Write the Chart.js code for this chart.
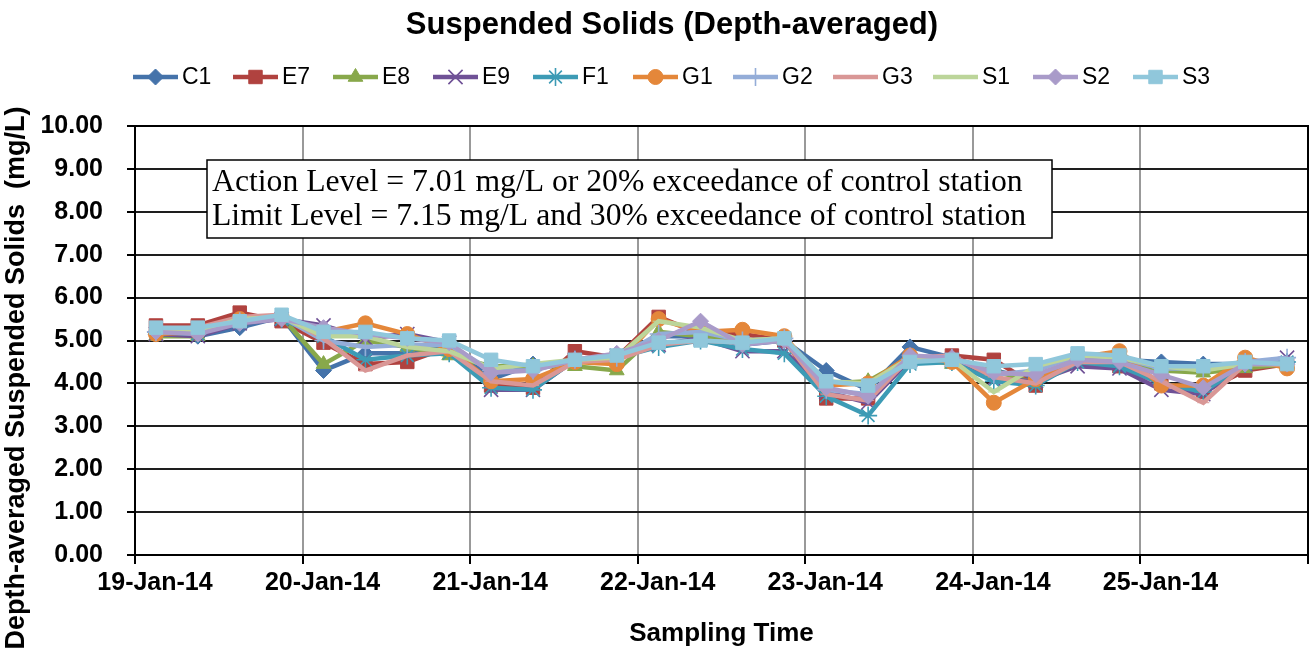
<!DOCTYPE html>
<html>
<head>
<meta charset="utf-8">
<script src="https://cdn.jsdelivr.net/npm/chart.js@4.4.1/dist/chart.umd.min.js"></script>
<style>
  html, body { margin: 0; padding: 0; background: #fff; }
  #wrap { width: 1309px; height: 657px; }
</style>
</head>
<body>
<div id="wrap"><canvas id="chart" width="1309" height="657"></canvas></div>
<script>
// ============= DATA =============
const stations = ['C1', 'E7', 'E8', 'E9', 'F1', 'G1', 'G2', 'G3', 'S1', 'S2', 'S3'];

const sampleTimes = [
  '2014-01-19 03:00', '2014-01-19 09:00', '2014-01-19 15:00', '2014-01-19 21:00',
  '2014-01-20 03:00', '2014-01-20 09:00', '2014-01-20 15:00', '2014-01-20 21:00',
  '2014-01-21 03:00', '2014-01-21 09:00', '2014-01-21 15:00', '2014-01-21 21:00',
  '2014-01-22 03:00', '2014-01-22 09:00', '2014-01-22 15:00', '2014-01-22 21:00',
  '2014-01-23 03:00', '2014-01-23 09:00', '2014-01-23 15:00', '2014-01-23 21:00',
  '2014-01-24 03:00', '2014-01-24 09:00', '2014-01-24 15:00', '2014-01-24 21:00',
  '2014-01-25 03:00', '2014-01-25 09:00', '2014-01-25 15:00', '2014-01-25 21:00'
];

const C1 = [5.15, 5.10, 5.30, 5.55, 4.30, 4.70, 4.70, 4.90, 4.10, 4.45, 4.50, 4.60, 5.10, 5.10, 4.90, 5.00, 4.30, 3.85, 4.85, 4.60, 4.30, 4.10, 4.55, 4.55, 4.50, 4.45, 4.45, 4.50];
const E7 = [5.35, 5.35, 5.65, 5.45, 4.95, 4.45, 4.50, 4.85, 3.95, 3.90, 4.75, 4.60, 5.55, 5.15, 5.15, 5.00, 3.65, 3.65, 4.55, 4.65, 4.55, 3.95, 4.60, 4.40, 4.00, 3.80, 4.30, 4.45];
const E8 = [5.10, 5.10, 5.45, 5.55, 4.45, 5.00, 4.85, 4.65, 4.40, 4.40, 4.40, 4.30, 5.20, 5.10, 4.95, 5.00, 4.00, 4.05, 4.60, 4.45, 4.30, 4.00, 4.55, 4.50, 4.30, 4.25, 4.35, 4.45];
const E9 = [5.15, 5.10, 5.40, 5.50, 5.35, 5.05, 5.15, 4.95, 3.85, 3.85, 4.55, 4.65, 4.90, 5.05, 4.75, 4.75, 3.80, 3.55, 4.55, 4.55, 4.10, 4.05, 4.40, 4.35, 3.85, 3.75, 4.45, 4.60];
const F1 = [5.20, 5.15, 5.45, 5.50, 5.10, 4.55, 4.65, 4.70, 3.90, 3.85, 4.55, 4.60, 4.85, 5.00, 4.80, 4.70, 3.70, 3.25, 4.45, 4.50, 4.05, 3.95, 4.50, 4.40, 4.00, 3.80, 4.45, 4.50];
const G1 = [5.15, 5.20, 5.50, 5.55, 5.20, 5.40, 5.15, 4.80, 4.05, 4.10, 4.50, 4.45, 5.50, 5.20, 5.25, 5.10, 3.95, 4.00, 4.65, 4.50, 3.55, 4.10, 4.60, 4.75, 3.95, 3.95, 4.60, 4.35];
const G2 = [5.20, 5.20, 5.45, 5.55, 5.00, 4.85, 4.90, 4.90, 4.30, 4.30, 4.55, 4.60, 5.15, 5.20, 5.00, 5.05, 3.85, 3.75, 4.55, 4.60, 4.20, 4.30, 4.65, 4.60, 4.35, 4.35, 4.50, 4.60];
const G3 = [5.25, 5.30, 5.55, 5.60, 5.05, 4.30, 4.65, 4.75, 4.05, 3.95, 4.50, 4.55, 4.90, 5.00, 4.95, 5.00, 3.75, 3.60, 4.60, 4.65, 4.15, 4.00, 4.50, 4.50, 4.05, 3.55, 4.45, 4.45];
const S1 = [5.20, 5.20, 5.50, 5.55, 5.10, 5.10, 4.85, 4.75, 4.35, 4.45, 4.55, 4.60, 5.45, 5.30, 5.00, 5.05, 4.05, 4.00, 4.60, 4.55, 3.80, 4.40, 4.65, 4.60, 4.40, 4.30, 4.45, 4.45];
const S2 = [5.20, 5.15, 5.40, 5.50, 5.30, 5.15, 5.05, 4.95, 4.25, 4.30, 4.55, 4.70, 5.00, 5.45, 4.90, 5.00, 3.90, 3.70, 4.65, 4.60, 4.25, 4.20, 4.55, 4.50, 4.20, 3.90, 4.45, 4.45];
const S3 = [5.30, 5.30, 5.45, 5.60, 5.20, 5.20, 5.05, 5.00, 4.55, 4.40, 4.55, 4.65, 4.95, 5.00, 4.95, 5.05, 4.05, 3.95, 4.50, 4.55, 4.40, 4.45, 4.70, 4.65, 4.40, 4.40, 4.50, 4.45];

const seriesValues = [C1, E7, E8, E9, F1, G1, G2, G3, S1, S2, S3];

const dayLabels = ['19-Jan-14', '20-Jan-14', '21-Jan-14', '22-Jan-14', '23-Jan-14', '24-Jan-14', '25-Jan-14'];
const yTickLabels = ['0.00', '1.00', '2.00', '3.00', '4.00', '5.00', '6.00', '7.00', '8.00', '9.00', '10.00'];

const chartTitle = 'Suspended Solids (Depth-averaged)';
const yTitle = 'Depth-averaged Suspended Solids  (mg/L)';
const noteLines = [
  'Action Level = 7.01 mg/L or 20% exceedance of control station',
  'Limit Level = 7.15 mg/L and 30% exceedance of control station'
];

// ============= STYLE =============
const colors = ['#4573AA', '#B0423F', '#88A84B', '#6F5196', '#3D9BB5', '#E4873A',
                '#94ADD8', '#D99796', '#BCD59A', '#A99BC9', '#90C7DB'];
const markers = ['rectRot', 'rect', 'triangle', 'crossRot', 'star', 'circle',
                 'cross', 'line', 'line', 'rectRot', 'rect'];
const markerSize = { rectRot: 8, rect: 9.5, triangle: 8.5, crossRot: 10, star: 9, circle: 7.5, cross: 9, line: 6 };
const thinMarkers = ['crossRot', 'star', 'cross'];
const FONT = "'Liberation Sans', Arial, sans-serif";

Chart.defaults.font.family = FONT;
Chart.defaults.color = '#000';

// sampling time -> days since 19-Jan-14 00:00
function toDays(s) {
  const day = parseInt(s.slice(8, 10), 10) - 19;
  const hh = parseInt(s.slice(11, 13), 10);
  const mm = parseInt(s.slice(14, 16), 10);
  return day + (hh + mm / 60) / 24;
}

const datasets = stations.map((name, i) => {
  const ps = markers[i];
  const thin = thinMarkers.includes(ps);
  return {
    label: name,
    data: seriesValues[i].map((v, k) => ({ x: toDays(sampleTimes[k]), y: v })),
    borderColor: colors[i],
    backgroundColor: colors[i],
    borderWidth: 4.5,
    pointStyle: ps,
    pointRadius: markerSize[ps],
    pointBackgroundColor: colors[i],
    pointBorderColor: colors[i],
    pointBorderWidth: thin ? 1.6 : 1,
    tension: 0,
    order: stations.length - i
  };
});

// ============= EXTRAS (title, legend, frame, note box, y title) =============
const extras = {
  id: 'extras',
  beforeDatasetsDraw(chart) {
    const { ctx, chartArea: a } = chart;
    ctx.save();
    ctx.strokeStyle = '#000';
    ctx.lineWidth = 2;
    ctx.strokeRect(a.left, a.top, a.right - a.left, a.bottom - a.top);
    ctx.restore();
  },
  afterDraw(chart) {
    const { ctx, chartArea: a } = chart;
    ctx.save();

    // title
    ctx.fillStyle = '#000';
    ctx.font = 'bold 31px ' + FONT;
    ctx.textAlign = 'center';
    ctx.textBaseline = 'middle';
    ctx.fillText(chartTitle, 672, 25);

    // legend row
    const ly = 77;
    stations.forEach((name, i) => {
      const x0 = 133 + 100 * i;
      ctx.strokeStyle = colors[i];
      ctx.lineWidth = 4.5;
      ctx.beginPath();
      ctx.moveTo(x0, ly);
      ctx.lineTo(x0 + 45, ly);
      ctx.stroke();
      ctx.fillStyle = colors[i];
      ctx.strokeStyle = colors[i];
      const ps = markers[i];
      ctx.lineWidth = thinMarkers.includes(ps) ? 1.6 : 1;
      Chart.helpers.drawPoint(ctx, { pointStyle: ps, radius: markerSize[ps], rotation: 0, borderWidth: ctx.lineWidth }, x0 + 22.5, ly);
      ctx.fillStyle = '#000';
      ctx.font = '23px ' + FONT;
      ctx.textAlign = 'left';
      ctx.textBaseline = 'middle';
      ctx.fillText(name, x0 + 49, ly + 1);
    });

    // y axis title
    ctx.translate(17, 378);
    ctx.rotate(-Math.PI / 2);
    ctx.font = 'bold 27px ' + FONT;
    ctx.textAlign = 'center';
    ctx.textBaseline = 'middle';
    ctx.fillStyle = '#000';
    ctx.fillText(yTitle, 0, 0);
    ctx.setTransform(1, 0, 0, 1, 0, 0);

    // note box
    const bx = a.left + 72, by = a.top + 34, bw = 845, bh = 78;
    ctx.fillStyle = '#fff';
    ctx.fillRect(bx, by, bw, bh);
    ctx.strokeStyle = '#000';
    ctx.lineWidth = 1.5;
    ctx.strokeRect(bx, by, bw, bh);
    let fs = 26;
    ctx.font = fs + "px 'Liberation Serif', 'DejaVu Serif', serif";
    fs = fs * 812 / ctx.measureText(noteLines[0]).width;
    ctx.font = fs.toFixed(1) + "px 'Liberation Serif', 'DejaVu Serif', serif";
    ctx.fillStyle = '#000';
    ctx.textAlign = 'left';
    ctx.textBaseline = 'middle';
    ctx.fillText(noteLines[0], bx + 5, by + 23);
    ctx.fillText(noteLines[1], bx + 5, by + 57);

    ctx.restore();
  }
};

// ============= CHART =============
new Chart(document.getElementById('chart').getContext('2d'), {
  type: 'line',
  data: { datasets },
  plugins: [extras],
  options: {
    responsive: false,
    animation: false,
    layout: { autoPadding: false, padding: { left: 0, right: 1, top: 126, bottom: 0 } },
    plugins: {
      legend: { display: false },
      tooltip: { enabled: false },
      title: { display: false }
    },
    scales: {
      x: {
        type: 'linear',
        min: 0,
        max: 7,
        afterFit: (s) => { s.height = 102; s.paddingRight = 0; s.paddingLeft = 0; },
        grid: { color: '#999', lineWidth: 2, tickColor: '#000', tickLength: 9 },
        border: { color: '#000', width: 2 },
        ticks: {
          stepSize: 1,
          autoSkip: false,
          maxRotation: 0,
          labelOffset: 20,
          padding: 4,
          color: '#000',
          font: { size: 25, weight: 'bold' },
          callback: (v) => dayLabels[v] || ''
        },
        title: {
          display: true,
          text: 'Sampling Time',
          color: '#000',
          font: { size: 26, weight: 'bold' },
          padding: { top: 0, bottom: 8 }
        }
      },
      y: {
        min: 0,
        max: 10,
        afterFit: (s) => { s.width = 135; },
        grid: { color: '#1e1e1e', lineWidth: 2, tickColor: '#000', tickLength: 8 },
        border: { color: '#000', width: 2 },
        ticks: {
          stepSize: 1,
          padding: 24,
          color: '#000',
          font: { size: 25, weight: 'bold' },
          callback: (v, i) => yTickLabels[i]
        }
      }
    }
  }
});
</script>
</body>
</html>
